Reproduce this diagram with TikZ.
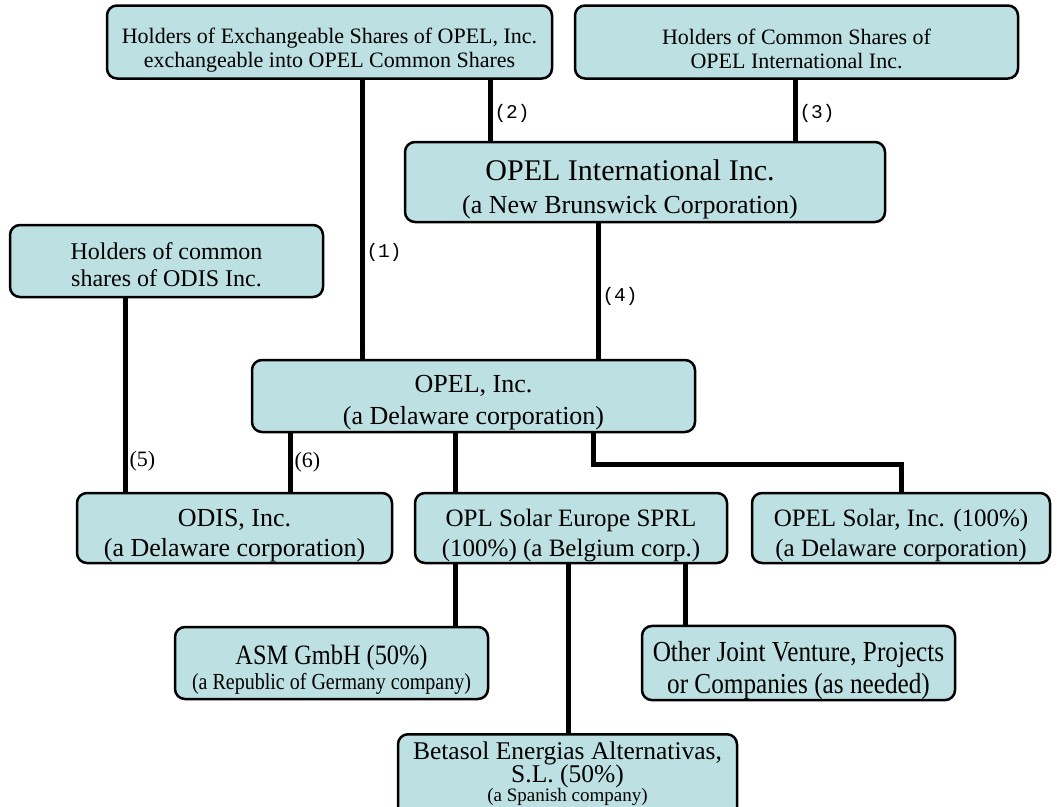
\documentclass[tikz,border=0pt]{standalone}
\usepackage{fontspec}
\setmainfont{Liberation Serif}
\setmonofont{Liberation Mono}
\newfontfamily\condfont[FakeStretch=0.87]{Liberation Serif}
\definecolor{boxfill}{RGB}{189,224,226}
\newcommand\tightskip{\lineskiplimit-50pt\relax}
% invisible strut that pushes a box's text down
\newcommand\lift[1]{\rule{0pt}{#1}}

\begin{document}
\begin{tikzpicture}[x=1pt, y=-1pt,
        box/.style = {draw, line width=2.5pt, rounded corners=10pt, fill=boxfill,
                      align=center, inner sep=0pt},
        fs/.style 2 args = {font={\fontsize{#1}{#2}\selectfont\tightskip}},
        cfs/.style 2 args = {font={\condfont\fontsize{#1}{#2}\selectfont\tightskip}},
        link/.style = {line width=5pt},
        num/.style = {right, inner sep=2pt, font=\ttfamily\fontsize{19.5}{20}\selectfont},
        numr/.style = {right, inner sep=2pt, font=\fontsize{22}{22}\selectfont}]
        \useasboundingbox (0,0) rectangle (1057,806);

        \node[box, fs={22}{24}, minimum width=445pt, minimum height=73pt] (hx) at (329.5,42)
            {\lift{32pt}Holders of Exchangeable Shares of OPEL, Inc.\\exchangeable into OPEL Common Shares};
        \node[box, fs={22}{24}, minimum width=443pt, minimum height=73pt] (hc) at (796.5,42)
            {\lift{30pt}Holders of Common Shares of\\OPEL International Inc.};
        \node[box, fs={30}{33}, minimum width=480pt, minimum height=80pt] (oi) at (645,182)
            {\lift{36pt}OPEL International Inc.\kern30pt\null\\
             {\fontsize{26}{33}\selectfont (a New Brunswick Corporation)\kern30pt\null}};
        \node[box, fs={24}{27}, minimum width=313pt, minimum height=72pt] (ho) at (166.5,261)
            {\lift{25pt}Holders of common\\shares of ODIS Inc.};
        \node[box, fs={26}{32}, minimum width=443pt, minimum height=72pt] (opel) at (473.5,396)
            {\lift{30pt}OPEL, Inc.\\(a Delaware corporation)};
        \node[box, fs={26}{30}, minimum width=315pt, minimum height=70pt] (odis) at (234.5,528)
            {\lift{33pt}ODIS, Inc.\\(a Delaware corporation)};
        \node[box, fs={25}{30}, minimum width=312pt, minimum height=70pt] (ose) at (571,528)
            {\lift{33pt}OPL Solar Europe SPRL\\(100\%) (a Belgium corp.)};
        \node[box, fs={25}{30}, minimum width=298pt, minimum height=70pt] (os) at (901,528)
            {\lift{33pt}OPEL Solar, Inc. (100\%)\\(a Delaware corporation)};
        \node[box, cfs={28}{25}, minimum width=313pt, minimum height=72pt] (asm) at (331.5,663)
            {\lift{33pt}ASM GmbH (50\%)\\{\fontsize{23}{25}\selectfont (a Republic of Germany company)}};
        \node[box, cfs={29}{32}, minimum width=313pt, minimum height=72pt] (ojv) at (798.5,663)
            {\lift{36pt}Other Joint Venture, Projects\\or Companies (as needed)};
        \node[box, fs={25.5}{23}, anchor=north, minimum width=339pt, inner ysep=8pt,
              text depth=16pt] (beta) at (567.5,733)
            {Betasol Energias Alternativas,\\S.L. (50\%)\\[-4pt]{\fontsize{19}{21}\selectfont (a Spanish company)}};

        % x positions of the vertical links
        \coordinate (l1) at (362,0);
        \coordinate (l2) at (490,0);
        \coordinate (l3) at (795,0);
        \coordinate (l4) at (598,0);
        \coordinate (l5) at (125,0);
        \coordinate (l6) at (290,0);
        \coordinate (l7) at (455,0);
        \coordinate (l8) at (568,0);
        \coordinate (l9) at (685,0);

        \draw[link] (hx.south -| l1) -- (opel.north -| l1) node[num, pos=0.62] {(1)};
        \draw[link] (hx.south -| l2) -- (oi.north -| l2) node[num, pos=0.55] {(2)};
        \draw[link] (hc.south -| l3) -- (oi.north -| l3) node[num, pos=0.55] {(3)};
        \draw[link] (oi.south -| l4) -- (opel.north -| l4) node[num, pos=0.54] {(4)};
        \draw[link] (ho.south -| l5) -- (odis.north -| l5) node[numr, pos=0.84] {(5)};
        \draw[link] (opel.south -| l6) -- (odis.north -| l6) node[numr, midway] {(6)};
        \draw[link] (opel.south -| l7) -- (ose.north -| l7);
        \draw[link] ([xshift=119.5pt]opel.south) -- ++(0,31) -| (os.north);
        \draw[link] (ose.south -| l7) -- (asm.north -| l7);
        \draw[link] (ose.south -| l8) -- (beta.north -| l8);
        \draw[link] (ose.south -| l9) -- (ojv.north -| l9);
\end{tikzpicture}
\end{document}
